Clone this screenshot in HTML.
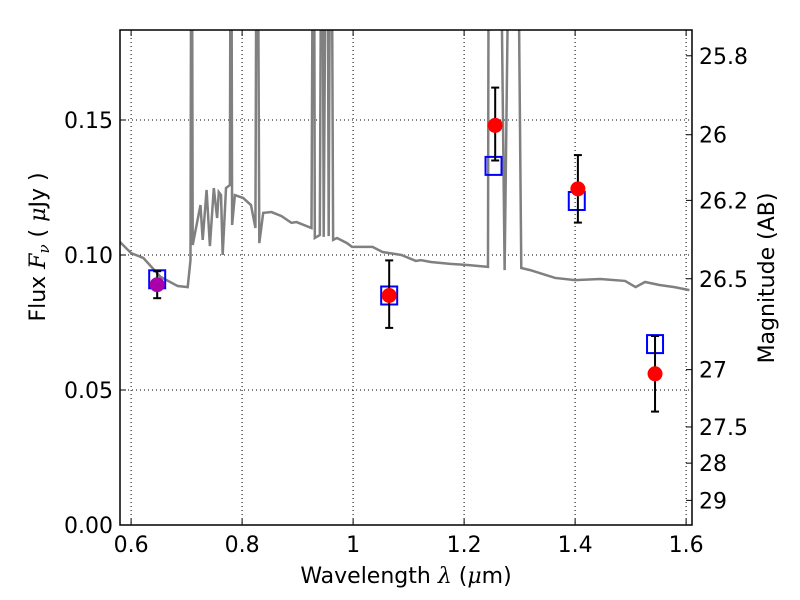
<!DOCTYPE html>
<html><head><meta charset="utf-8"><style>
body{margin:0;background:#fff}
svg{display:block;font-family:"DejaVu Sans","Liberation Sans",sans-serif}
</style></head><body>
<svg id="c" width="800" height="600">
<defs><clipPath id="cp"><rect x="120" y="30" width="572" height="495"/></clipPath></defs>
</svg>
<script>
const specLam=[.580,.600,.622,.653,.684,.702,.707,.709,.711,.725,.729,.736,.742,.749,.755,.758,.762,.765,.771,.778,.780,.782,.787,.802,.816,.824,.827,.831,.838,.853,.871,.889,.898,.925,.929,.931,.940,.944,.947,.953,.956,.960,.964,.971,.989,.998,1.035,1.053,1.087,1.113,1.122,1.140,1.175,1.206,1.243,1.245,1.262,1.273,1.285,1.294,1.303,1.319,1.364,1.400,1.445,1.490,1.509,1.526,1.552,1.579,1.606];
const specFlux=[.1048,.1007,.0989,.0919,.0885,.0881,.0981,.30,.1037,.1185,.1056,.1241,.1033,.1248,.1137,.1233,.1222,.1000,.1248,.1259,.30,.1111,.1222,.1211,.1185,.1100,.30,.1044,.1156,.1159,.1144,.1119,.1122,.1100,.30,.1063,.1074,.30,.1067,.30,.1070,.30,.1056,.1063,.1044,.1030,.1030,.1011,.1000,.0978,.0981,.0974,.0967,.0963,.0956,.30,.30,.0944,.30,.30,.0952,.0944,.0915,.0907,.0911,.0904,.0881,.0900,.0889,.0881,.0870];
const obsLam=[0.647,1.065,1.256,1.405,1.544];
const obsFlux=[0.089,0.085,0.148,0.1245,0.056];
const obsLo=[0.084,0.073,0.135,0.112,0.042];
const obsHi=[0.094,0.098,0.162,0.137,0.070];
const modLam=[0.647,1.065,1.253,1.403,1.544];
const modFlux=[0.091,0.085,0.133,0.120,0.067];
const xTicks=[0.6,0.8,1.0,1.2,1.4,1.6];
const xTickLabels=["0.6","0.8","1","1.2","1.4","1.6"];
const yTicks=[0,0.05,0.10,0.15];
const yTickLabels=["0.00","0.05","0.10","0.15"];
const magTicks=[25.8,26,26.2,26.5,27,27.5,28,29];
const magLabels=["25.8","26","26.2","26.5","27","27.5","28","29"];

const L=120,R=692,T=30,B=525;
const X=v=>L+(v-0.58)/(1.6106-0.58)*(R-L);
const Y=v=>B-v/0.18333*(B-T);
const M=m=>Y(Math.pow(10,(23.9-m)/2.5));
const svg=document.getElementById('c');const NS="http://www.w3.org/2000/svg";
function mk(t,a,p){const e=document.createElementNS(NS,t);for(const k in a)e.setAttribute(k,a[k]);(p||svg).appendChild(e);return e;}

xTicks.forEach(v=>{const g=mk('line',{x1:X(v),x2:X(v),y1:T,y2:B,stroke:'#000','stroke-dasharray':'1,3','stroke-width':1});

});
yTicks.forEach(v=>{const g=mk('line',{x1:L,x2:R,y1:Y(v),y2:Y(v),stroke:'#000','stroke-dasharray':'1,3','stroke-width':1});

});

const sp=mk('polyline',{points:specLam.map((l,i)=>X(l)+','+Y(specFlux[i])).join(' '),fill:'none',stroke:'#808080','stroke-width':2.5,'clip-path':'url(#cp)'});



modLam.forEach((l,i)=>{const s=mk('rect',{x:X(l)-8,y:Y(modFlux[i])-9,width:16,height:18,fill:'none',stroke:'#0000ff','stroke-width':2});

});
obsLam.forEach((l,i)=>{const x=X(l);
 const g=mk('g',{});
 
 
 mk('line',{x1:x,x2:x,y1:Y(obsLo[i]),y2:Y(obsHi[i]),stroke:'#000','stroke-width':2},g);
 mk('line',{x1:x-4,x2:x+4,y1:Y(obsLo[i]),y2:Y(obsLo[i]),stroke:'#000','stroke-width':2},g);
 mk('line',{x1:x-4,x2:x+4,y1:Y(obsHi[i]),y2:Y(obsHi[i]),stroke:'#000','stroke-width':2},g);
 mk('circle',{cx:x,cy:Y(obsFlux[i]),r:7.5,fill:i==0?'#aa00aa':'#ff0000'},g);
});

const fr=mk('rect',{x:L,y:T,width:R-L,height:B-T,fill:'none',stroke:'#000','stroke-width':1.5});



xTicks.forEach((v,i)=>{const x=X(v);
 mk('line',{x1:x,x2:x,y1:B,y2:B-6,stroke:'#000'});mk('line',{x1:x,x2:x,y1:T,y2:T+6,stroke:'#000'});
 const t=mk('text',{x:x,y:B+27,'text-anchor':'middle','font-size':22});t.textContent=xTickLabels[i];
 
 });
yTicks.forEach((v,i)=>{const y=Y(v);
 mk('line',{x1:L,x2:L+6,y1:y,y2:y,stroke:'#000'});
 const t=mk('text',{x:L-7,y:y+8,'text-anchor':'end','font-size':22});t.textContent=yTickLabels[i];
 
 });
magTicks.forEach((m,i)=>{const y=M(m);
 mk('line',{x1:R,x2:R-6,y1:y,y2:y,stroke:'#000'});
 const t=mk('text',{x:R+7,y:y+8,'font-size':22});t.textContent=magLabels[i];
 
 });
</script>
<svg style="position:absolute;left:0;top:0" width="800" height="600">
<text x="406" y="583" text-anchor="middle" font-size="22" font-family="DejaVu Sans,sans-serif">Wavelength  <tspan font-style="italic" font-family="DejaVu Serif,serif">λ</tspan> (<tspan font-style="italic" font-family="DejaVu Serif,serif">μ</tspan>m)</text>
<text transform="translate(45,247) rotate(-90)" text-anchor="middle" font-size="22" font-family="DejaVu Sans,sans-serif">Flux  <tspan font-style="italic" font-family="DejaVu Serif,serif">F</tspan><tspan font-style="italic" font-size="15" dy="4" font-family="DejaVu Serif,serif">ν</tspan><tspan dy="-4">  (  </tspan><tspan font-style="italic" font-family="DejaVu Serif,serif">μ</tspan>Jy )</text>
<text transform="translate(774,278) rotate(-90)" text-anchor="middle" font-size="22" font-family="DejaVu Sans,sans-serif">Magnitude (AB)</text>
</svg>
</body></html>
